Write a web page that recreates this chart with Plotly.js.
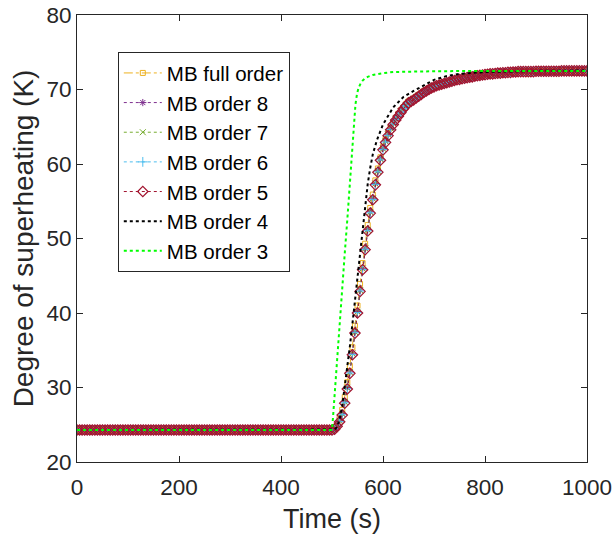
<!DOCTYPE html>
<html>
<head>
<meta charset="utf-8">
<script src="https://cdn.plot.ly/plotly-3.0.1.min.js"></script>
<style>html,body{margin:0;padding:0;background:#fff;}#chart{width:616px;height:539px;}</style>
</head>
<body>
<div id="chart"></div>
<script>
// Time samples (s) for the marker series
const tBase = [0,5,10,15,20,25,30,35,40,45,50,55,60,65,70,75,80,85,90,95,100,105,110,115,120,125,130,135,140,145,150,155,160,165,170,175,180,185,190,195,200,205,210,215,220,225,230,235,240,245,250,255,260,265,270,275,280,285,290,295,300,305,310,315,320,325,330,335,340,345,350,355,360,365,370,375,380,385,390,395,400,405,410,415,420,425,430,435,440,445,450,455,460,465,470,475,480,485,490,495,500];
const tRise = [505,510,515,520,525,530,535,540,545,550,555,560,565,570,575,580,585,590,595,600,605,610,615,620,625,630,635,640,645,650,655,660,665,670,675,680,685,690,695,700,705,710,715,720,725,730,735,740,745,750,755,760,765,770,775,780,785,790,795,800,805,810,815,820,825,830,835,840,845,850,855,860,865,870,875,880,885,890,895,900,905,910,915,920,925,930,935,940,945,950,955,960,965,970,975,980,985,990,995,1000];

// Superheating before the step (K), same for all marker series
const baseVals = [24.3,24.3,24.3,24.3,24.3,24.3,24.3,24.3,24.3,24.3,24.3,24.3,24.3,24.3,24.3,24.3,24.3,24.3,24.3,24.3,24.3,24.3,24.3,24.3,24.3,24.3,24.3,24.3,24.3,24.3,24.3,24.3,24.3,24.3,24.3,24.3,24.3,24.3,24.3,24.3,24.3,24.3,24.3,24.3,24.3,24.3,24.3,24.3,24.3,24.3,24.3,24.3,24.3,24.3,24.3,24.3,24.3,24.3,24.3,24.3,24.3,24.3,24.3,24.3,24.3,24.3,24.3,24.3,24.3,24.3,24.3,24.3,24.3,24.3,24.3,24.3,24.3,24.3,24.3,24.3,24.3,24.3,24.3,24.3,24.3,24.3,24.3,24.3,24.3,24.3,24.3,24.3,24.3,24.3,24.3,24.3,24.3,24.3,24.3,24.3,24.3];

// Response after the step (K)
const riseFull = [24.5,25.1,25.9,27.0,28.7,30.7,32.9,35.4,38.3,41.0,43.9,46.7,49.3,51.8,54.1,55.9,57.8,59.4,60.9,62.3,63.3,64.1,64.9,65.6,66.2,66.7,67.2,67.6,68.0,68.4,68.6,68.8,69.05,69.3,69.5,69.75,69.95,70.15,70.3,70.45,70.55,70.65,70.75,70.85,70.95,71.05,71.15,71.25,71.35,71.4,71.5,71.55,71.65,71.7,71.75,71.85,71.9,71.95,72.0,72.05,72.1,72.15,72.15,72.2,72.25,72.25,72.3,72.3,72.35,72.35,72.4,72.4,72.45,72.45,72.45,72.45,72.45,72.45,72.45,72.5,72.5,72.5,72.5,72.5,72.5,72.5,72.5,72.5,72.5,72.55,72.55,72.55,72.55,72.55,72.55,72.55,72.55,72.55,72.55,72.55];
const rise8 = [24.4,24.9,25.6,26.5,28.1,30.0,32.1,34.6,37.5,40.2,43.1,46.0,48.7,51.2,53.6,55.4,57.4,59.1,60.7,62.1,63.1,64.0,64.8,65.5,66.1,66.6,67.1,67.55,67.9,68.3,68.5,68.7,68.9,69.15,69.4,69.65,69.85,70.05,70.25,70.4,70.5,70.6,70.7,70.8,70.9,71.0,71.1,71.2,71.3,71.35,71.45,71.5,71.6,71.65,71.7,71.8,71.85,71.9,71.95,72.0,72.05,72.1,72.1,72.15,72.2,72.2,72.25,72.25,72.3,72.3,72.35,72.35,72.4,72.4,72.4,72.4,72.4,72.4,72.4,72.45,72.45,72.45,72.45,72.45,72.45,72.45,72.45,72.45,72.45,72.5,72.5,72.5,72.5,72.5,72.5,72.5,72.5,72.5,72.5,72.5];
const rise7 = [24.4,24.9,25.5,26.45,28.05,29.95,32.05,34.55,37.45,40.15,43.05,45.95,48.65,51.15,53.55,55.35,57.35,59.05,60.65,62.05,63.05,63.95,64.75,65.45,66.05,66.55,67.05,67.5,67.9,68.3,68.5,68.7,68.9,69.15,69.4,69.65,69.85,70.05,70.25,70.4,70.5,70.6,70.7,70.8,70.9,71.0,71.1,71.2,71.3,71.35,71.45,71.5,71.6,71.65,71.7,71.8,71.85,71.9,71.95,72.0,72.05,72.1,72.1,72.15,72.2,72.2,72.25,72.25,72.3,72.3,72.35,72.35,72.4,72.4,72.4,72.4,72.4,72.4,72.4,72.45,72.45,72.45,72.45,72.45,72.45,72.45,72.45,72.45,72.45,72.5,72.5,72.5,72.5,72.5,72.5,72.5,72.5,72.5,72.5,72.5];
const rise6 = [24.4,24.85,25.45,26.35,27.95,29.85,31.95,34.45,37.35,40.05,42.95,45.85,48.55,51.05,53.45,55.25,57.25,58.95,60.55,61.95,62.95,63.85,64.65,65.35,65.95,66.45,66.95,67.45,67.85,68.25,68.45,68.65,68.9,69.1,69.35,69.6,69.8,70.0,70.2,70.35,70.5,70.6,70.7,70.8,70.9,71.0,71.1,71.2,71.3,71.35,71.45,71.5,71.6,71.65,71.7,71.8,71.85,71.9,71.95,72.0,72.05,72.1,72.1,72.15,72.2,72.2,72.25,72.25,72.3,72.3,72.35,72.35,72.4,72.4,72.4,72.4,72.4,72.4,72.4,72.45,72.45,72.45,72.45,72.45,72.45,72.45,72.45,72.45,72.45,72.5,72.5,72.5,72.5,72.5,72.5,72.5,72.5,72.5,72.5,72.5];
const rise5 = [24.4,24.8,25.4,26.3,27.9,29.8,31.9,34.4,37.3,40.0,42.9,45.8,48.5,51.0,53.4,55.2,57.2,58.9,60.5,61.9,62.9,63.8,64.6,65.3,65.9,66.4,66.9,67.4,67.8,68.2,68.4,68.6,68.85,69.1,69.35,69.6,69.8,70.0,70.2,70.35,70.5,70.6,70.7,70.8,70.9,71.0,71.1,71.2,71.3,71.35,71.45,71.5,71.6,71.65,71.7,71.8,71.85,71.9,71.95,72.0,72.05,72.1,72.1,72.15,72.2,72.2,72.25,72.25,72.3,72.3,72.35,72.35,72.4,72.4,72.4,72.4,72.4,72.4,72.4,72.45,72.45,72.45,72.45,72.45,72.45,72.45,72.45,72.45,72.45,72.5,72.5,72.5,72.5,72.5,72.5,72.5,72.5,72.5,72.5,72.5];

// Line-only series
const t4 = [0,100,200,300,400,500,505,510,515,520,525,530,535,540,545,550,555,560,565,570,575,580,588,600,620,640,660,680,700,725,750,800,850,900,1000];
const v4 = [24.3,24.3,24.3,24.3,24.3,24.3,24.35,24.7,25.8,27.5,30.0,32.6,35.5,38.5,41.7,45.0,48.4,51.6,54.6,57.3,59.5,61.3,63.2,65.3,67.6,69.0,69.8,70.6,71.3,71.8,72.1,72.35,72.45,72.5,72.55];
const t3 = [0,100,200,300,400,500,502,505,510,515,520,525,530,535,540,543,546,549,552,556,560,565,570,580,590,600,620,640,670,700,800,900,1000];
const v3 = [24.3,24.3,24.3,24.3,24.3,24.3,26.0,29.0,33.5,38.5,43.5,48.0,52.5,57.0,62.5,65.5,68.0,69.4,70.2,70.8,71.2,71.5,71.7,71.95,72.1,72.2,72.35,72.4,72.45,72.45,72.5,72.5,72.5];

const names = ['MB full order','MB order 8','MB order 7','MB order 6','MB order 5','MB order 4','MB order 3'];

const tAll = tBase.concat(tRise);
const traces = [
  {x:tAll, y:baseVals.concat(riseFull), name:names[0], mode:'lines+markers',
   line:{color:'#EDB120', width:1, dash:'dashdot'},
   marker:{symbol:'square-open', size:5, color:'#EDB120', line:{width:1, color:'#EDB120'}}},
  {x:tAll, y:baseVals.concat(rise8), name:names[1], mode:'lines+markers',
   line:{color:'#7E2F8E', width:1, dash:'dot'},
   marker:{symbol:'asterisk-open', size:6, color:'#7E2F8E', line:{width:1, color:'#7E2F8E'}}},
  {x:tAll, y:baseVals.concat(rise7), name:names[2], mode:'lines+markers',
   line:{color:'#77AC30', width:1, dash:'dot'},
   marker:{symbol:'x-thin-open', size:6, color:'#77AC30', line:{width:1, color:'#77AC30'}}},
  {x:tAll, y:baseVals.concat(rise6), name:names[3], mode:'lines+markers',
   line:{color:'#4DBEEE', width:1, dash:'dot'},
   marker:{symbol:'cross-thin-open', size:7, color:'#4DBEEE', line:{width:1, color:'#4DBEEE'}}},
  {x:tAll, y:baseVals.concat(rise5), name:names[4], mode:'lines+markers',
   line:{color:'#A2142F', width:1, dash:'dot'},
   marker:{symbol:'diamond-open', size:8, color:'#A2142F', line:{width:1.2, color:'#A2142F'}}},
  {x:t4, y:v4, name:names[5], mode:'lines',
   line:{color:'#000000', width:2, dash:'dot'}},
  {x:t3, y:v3, name:names[6], mode:'lines',
   line:{color:'#00FF00', width:2, dash:'dot'}}
];

const fontFam = '"Liberation Sans", Arial, Helvetica, sans-serif';
const axisCommon = {
  showline:true, mirror:'ticks', linecolor:'#262626', linewidth:1,
  ticks:'inside', ticklen:6, tickwidth:1, tickcolor:'#262626',
  showgrid:false, zeroline:false,
  tickfont:{family:fontFam, size:22.5, color:'#262626'}
};
const layout = {
  width:616, height:539,
  margin:{l:77, r:29, t:15, b:77},
  paper_bgcolor:'#fff', plot_bgcolor:'#fff',
  font:{family:fontFam},
  xaxis:Object.assign({}, axisCommon, {range:[0,1000], dtick:200, tick0:0, ticklabelstandoff:5,
    title:{text:'Time (s)', font:{family:fontFam, size:27, color:'#262626'}, standoff:10}}),
  yaxis:Object.assign({}, axisCommon, {range:[20,80], dtick:10, tick0:20,
    title:{text:'Degree of superheating (K)', font:{family:fontFam, size:28, color:'#262626'}, standoff:4}}),
  showlegend:true,
  legend:{x:0.08, y:0.917, xanchor:'left', yanchor:'top',
    bgcolor:'#fff', bordercolor:'#262626', borderwidth:1, itemwidth:38,
    font:{family:fontFam, size:20.5, color:'#000'}, traceorder:'normal'}
};
Plotly.newPlot('chart', traces, layout, {displayModeBar:false, staticPlot:true});
</script>
</body>
</html>
